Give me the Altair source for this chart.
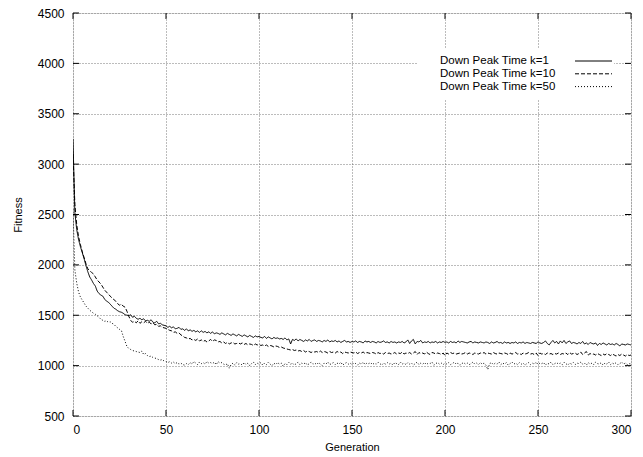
import altair as alt
import pandas as pd

series_names = ["Down Peak Time k=1", "Down Peak Time k=10", "Down Peak Time k=50"]

k1 = [
    3250, 2520, 2350, 2250, 2180, 2120, 2060, 1990, 1930, 1880,
    1850, 1815, 1790, 1740, 1715, 1700, 1690, 1660, 1640, 1630,
    1610, 1590, 1570, 1560, 1545, 1535, 1530, 1520, 1505, 1500,
    1495, 1505, 1480, 1490, 1470, 1460, 1470, 1455, 1465, 1445,
    1450, 1440, 1455, 1430, 1425, 1440, 1415, 1420, 1405, 1400,
    1395, 1380, 1390, 1375, 1385, 1365, 1370, 1380, 1360, 1365,
    1350, 1365, 1345, 1355, 1340, 1350, 1335, 1345, 1330, 1345,
    1330, 1340, 1325, 1335, 1320, 1335, 1315, 1325, 1320, 1310,
    1325, 1315, 1305, 1320, 1310, 1300, 1315, 1305, 1295, 1310,
    1300, 1290, 1305, 1295, 1285, 1300, 1290, 1280, 1295, 1285,
    1290, 1280, 1275, 1290, 1270, 1285, 1275, 1265, 1280, 1270,
    1275, 1265, 1270, 1260, 1275, 1255, 1265, 1215, 1260, 1250,
    1265, 1245, 1260, 1250, 1240, 1255, 1245, 1260, 1240, 1250,
    1255, 1240, 1250, 1245, 1235, 1250, 1240, 1255, 1235, 1245,
    1240, 1250, 1235, 1245, 1230, 1240, 1250, 1235, 1240, 1230,
    1240, 1235, 1245, 1230, 1240, 1235, 1225, 1245, 1235, 1240,
    1230, 1240, 1235, 1225, 1240, 1230, 1235, 1245, 1230, 1235,
    1225, 1240, 1230, 1235, 1225, 1235, 1230, 1240, 1225, 1235,
    1255, 1220, 1245, 1260, 1215, 1240, 1235, 1250, 1225, 1235,
    1230, 1240, 1225, 1235, 1230, 1240, 1225, 1235, 1230, 1240,
    1230, 1235, 1225, 1240, 1230, 1235, 1225, 1245, 1230, 1240,
    1235, 1230, 1225, 1235, 1240, 1225, 1235, 1230, 1225, 1235,
    1230, 1225, 1235, 1230, 1220, 1235, 1225, 1230, 1240, 1225,
    1230, 1220, 1235, 1225, 1230, 1220, 1230, 1225, 1235, 1220,
    1230, 1225, 1235, 1220, 1230, 1225, 1220, 1230, 1225, 1220,
    1235, 1225, 1220, 1230, 1245, 1220, 1205, 1230, 1250, 1225,
    1240, 1215, 1245, 1225, 1250, 1220, 1235, 1245, 1220, 1230,
    1225, 1215, 1230, 1220, 1240, 1215, 1225, 1210, 1230, 1220,
    1215, 1225, 1200, 1220, 1210, 1225, 1215, 1205, 1220, 1210,
    1215, 1205, 1220, 1210, 1195, 1215, 1210, 1205, 1215, 1210, 1205,
]

k10 = [
    3100, 2600, 2400, 2280, 2200, 2130, 2070, 2010, 1960, 1940,
    1925, 1910, 1880, 1850, 1830, 1810, 1780, 1750, 1730, 1710,
    1690, 1670, 1655, 1640, 1615, 1600, 1610, 1590, 1580, 1540,
    1490, 1450, 1430, 1440, 1425, 1445, 1420, 1435, 1425, 1440,
    1420, 1430, 1415, 1425, 1405, 1410, 1390, 1395, 1380, 1375,
    1370, 1360, 1350, 1345, 1330, 1335, 1320, 1325, 1305, 1295,
    1280, 1275, 1265, 1270, 1255, 1260, 1250, 1265, 1245, 1255,
    1240, 1250, 1235, 1245, 1260, 1240, 1255, 1250, 1235, 1240,
    1225, 1235, 1220, 1230, 1215, 1225, 1230, 1215, 1220, 1225,
    1215, 1225, 1210, 1220, 1205, 1215, 1210, 1200, 1215, 1205,
    1210, 1200, 1205, 1195, 1205, 1190, 1200, 1195, 1185, 1195,
    1190, 1180, 1185, 1175, 1170, 1165, 1160, 1155, 1160, 1150,
    1155, 1145, 1150, 1140, 1150, 1135, 1145, 1140, 1130, 1140,
    1135, 1140, 1130, 1145, 1130, 1140, 1135, 1125, 1140, 1130,
    1135, 1125, 1140, 1130, 1135, 1120, 1135, 1130, 1125, 1135,
    1130, 1125, 1135, 1120, 1130, 1125, 1135, 1120, 1130, 1125,
    1120, 1130, 1125, 1115, 1130, 1120, 1125, 1115, 1130, 1120,
    1125, 1115, 1120, 1130, 1115, 1125, 1120, 1135, 1115, 1125,
    1120, 1130, 1115, 1125, 1140, 1110, 1130, 1120, 1125, 1115,
    1135, 1120, 1110, 1130, 1125, 1115, 1125, 1120, 1110, 1125,
    1100, 1125, 1115, 1130, 1120, 1125, 1115, 1120, 1125, 1115,
    1120, 1130, 1115, 1125, 1120, 1110, 1125, 1120, 1115, 1125,
    1120, 1130, 1115, 1125, 1120, 1115, 1130, 1120, 1115, 1125,
    1120, 1115, 1125, 1120, 1110, 1125, 1115, 1120, 1130, 1115,
    1120, 1110, 1125, 1115, 1120, 1130, 1115, 1120, 1110, 1125,
    1100, 1125, 1115, 1120, 1110, 1125, 1115, 1120, 1110, 1120,
    1115, 1125, 1110, 1120, 1115, 1125, 1110, 1130, 1115, 1120,
    1125, 1110, 1120, 1135, 1110, 1125, 1140, 1105, 1120, 1110,
    1115, 1105, 1120, 1110, 1100, 1115, 1105, 1120, 1110, 1100,
    1115, 1105, 1095, 1110, 1100, 1115, 1105, 1095, 1110, 1100, 1105,
]

k50 = [
    2550, 1950, 1820, 1730, 1680, 1650, 1620, 1590, 1570, 1550,
    1535, 1520, 1510, 1495, 1480, 1460, 1450, 1440, 1445, 1430,
    1435, 1420, 1410, 1390, 1375, 1360, 1350, 1290, 1240, 1190,
    1170, 1160, 1150, 1145, 1140, 1135, 1130, 1145, 1110, 1120,
    1100, 1090, 1095, 1080, 1075, 1070, 1060, 1055, 1060, 1045,
    1040, 1030, 1040, 1025, 1035, 1020, 1030, 1015, 1025, 1010,
    1005, 1020, 1010, 1030, 1015, 1040, 1025, 1010, 1035, 1020,
    1030, 1015, 1040, 1025, 1030, 1020, 1035, 1010, 1040, 1025,
    1030, 1015, 1005, 1020, 975, 1010, 1025, 1005, 1030, 1015,
    1020, 1005, 1030, 1010, 1025, 1000, 1020, 1035, 1010, 1025,
    1015, 1030, 1005, 1025, 1010, 1035, 1015, 1000, 1025, 1010,
    1030, 1015, 1025, 995, 1020, 1010, 1035, 1015, 1025, 1005,
    1020, 1035, 1010, 1025, 1015, 1030, 1005, 1020, 1035, 1015,
    1025, 1010, 1030, 1015, 1000, 1025, 1015, 1035, 1010, 1020,
    1030, 1010, 1025, 1015, 1035, 1005, 1020, 1030, 1015, 1025,
    1010, 1030, 1020, 1005, 1025, 1015, 1035, 1010, 1025, 1020,
    1030, 1010, 1025, 1015, 1035, 1020, 1005, 1025, 1015, 1030,
    1015, 1025, 1005, 1030, 1020, 1010, 1035, 1015, 1025, 1010,
    1030, 1015, 1025, 1005, 1020, 1035, 1010, 1025, 1015, 1030,
    1010, 1025, 1020, 1035, 1005, 1020, 1030, 1015, 1025, 1010,
    1025, 1015, 1030, 1010, 1020, 1035, 1015, 1025, 1005, 1020,
    1030, 1015, 1025, 1010, 1020, 1035, 1015, 1025, 1010, 1030,
    1015, 1025, 1005, 960, 1020, 1030, 1010, 1025, 1015, 1035,
    1010, 1025, 1015, 1030, 1005, 1020, 1035, 1015, 1025, 1010,
    1030, 1015, 1025, 1005, 1020, 1030, 1010, 1025, 1015, 1035,
    1010, 1025, 1020, 1030, 1005, 1025, 1015, 1035, 1010, 1020,
    1030, 1015, 1025, 1010, 1035, 1020, 1005, 1025, 1015, 1030,
    1010, 1025, 1020, 1035, 1015, 1025, 1005, 1030, 1015, 1025,
    1010, 1035, 1020, 1015, 1030, 1005, 1025, 1015, 1035, 1010,
    1025, 1015, 1030, 1010, 1020, 1035, 1015, 1025, 1010, 1020, 1015,
]

x_ticks = [0, 50, 100, 150, 200, 250, 300]
y_ticks = [500, 1000, 1500, 2000, 2500, 3000, 3500, 4000, 4500]

FONT = "Liberation Sans"
W, H = 558, 403
dashes = [[1, 0], [4, 2], [1, 2]]

rows = []
for name, vals in zip(series_names, [k1, k10, k50]):
    for g, v in enumerate(vals):
        rows.append({"gen": g, "fitness": v, "series": name})
df = pd.DataFrame(rows)

xscale = alt.Scale(domain=[0, 300], nice=False, zero=False)
yscale = alt.Scale(domain=[500, 4500], nice=False, zero=False)

grid_dash = [1, 2]
x_axis = alt.Axis(values=x_ticks, format="d", grid=True, gridDash=grid_dash, gridColor="#555",
                  gridWidth=0.8, ticks=False, domain=False, labelPadding=8,
                  labelFontSize=12, labelFont=FONT, labelColor="black",
                  title="Generation", titleFont=FONT, titleFontSize=11,
                  titleFontWeight="normal", titleColor="black", titlePadding=6)
y_axis = alt.Axis(values=y_ticks, format="d", grid=True, gridDash=grid_dash, gridColor="#555",
                  gridWidth=0.8, ticks=False, domain=False, labelPadding=9,
                  labelFontSize=12, labelFont=FONT, labelColor="black",
                  title="Fitness", titleFont=FONT, titleFontSize=11,
                  titleFontWeight="normal", titleColor="black", titlePadding=14)

lines = alt.Chart(df).mark_line(strokeWidth=1, color="black", clip=True).encode(
    x=alt.X("gen:Q", scale=xscale, axis=x_axis),
    y=alt.Y("fitness:Q", scale=yscale, axis=y_axis),
    strokeDash=alt.StrokeDash("series:N", scale=alt.Scale(domain=series_names, range=dashes),
                              legend=None),
    detail="series:N",
)

xt = pd.DataFrame({"t": x_ticks})
yt = pd.DataFrame({"t": y_ticks})
tick_layers = [
    alt.Chart(yt).mark_rule(color="black", strokeWidth=1).encode(
        y=alt.Y("t:Q", scale=yscale), x=alt.value(0), x2=alt.value(6)),
    alt.Chart(yt).mark_rule(color="black", strokeWidth=1).encode(
        y=alt.Y("t:Q", scale=yscale), x=alt.value(W - 6), x2=alt.value(W)),
    alt.Chart(xt).mark_rule(color="black", strokeWidth=1).encode(
        x=alt.X("t:Q", scale=xscale), y=alt.value(H - 6), y2=alt.value(H)),
    alt.Chart(xt).mark_rule(color="black", strokeWidth=1).encode(
        x=alt.X("t:Q", scale=xscale), y=alt.value(0), y2=alt.value(6)),
]

one = alt.Data(values=[{"a": 1}])
legend_bg = alt.Chart(one).mark_rect(fill="white", stroke=None).encode(
    x=alt.value(344), x2=alt.value(541), y=alt.value(35), y2=alt.value(86))

legend_layers = []
for i, name in enumerate(series_names):
    yy = 48 + i * 12.8
    legend_layers.append(
        alt.Chart(one).mark_text(align="left", baseline="middle", font=FONT,
                                 fontSize=11.5, color="black").encode(
            x=alt.value(367), y=alt.value(yy), text=alt.value(name)))
    legend_layers.append(
        alt.Chart(one).mark_rule(color="black", strokeWidth=1, strokeDash=dashes[i]).encode(
            x=alt.value(502), x2=alt.value(539), y=alt.value(yy)))

chart = alt.layer(legend_bg, lines, *tick_layers, *legend_layers).properties(
    width=W, height=H,
    autosize=alt.AutoSizeParams(type="none"),
    padding={"left": 65, "top": 5, "right": 4, "bottom": 40},
).configure_view(stroke="black", strokeWidth=1).configure(background="white")

chart.save("out.html", embed_options={"renderer": "svg", "actions": False})
